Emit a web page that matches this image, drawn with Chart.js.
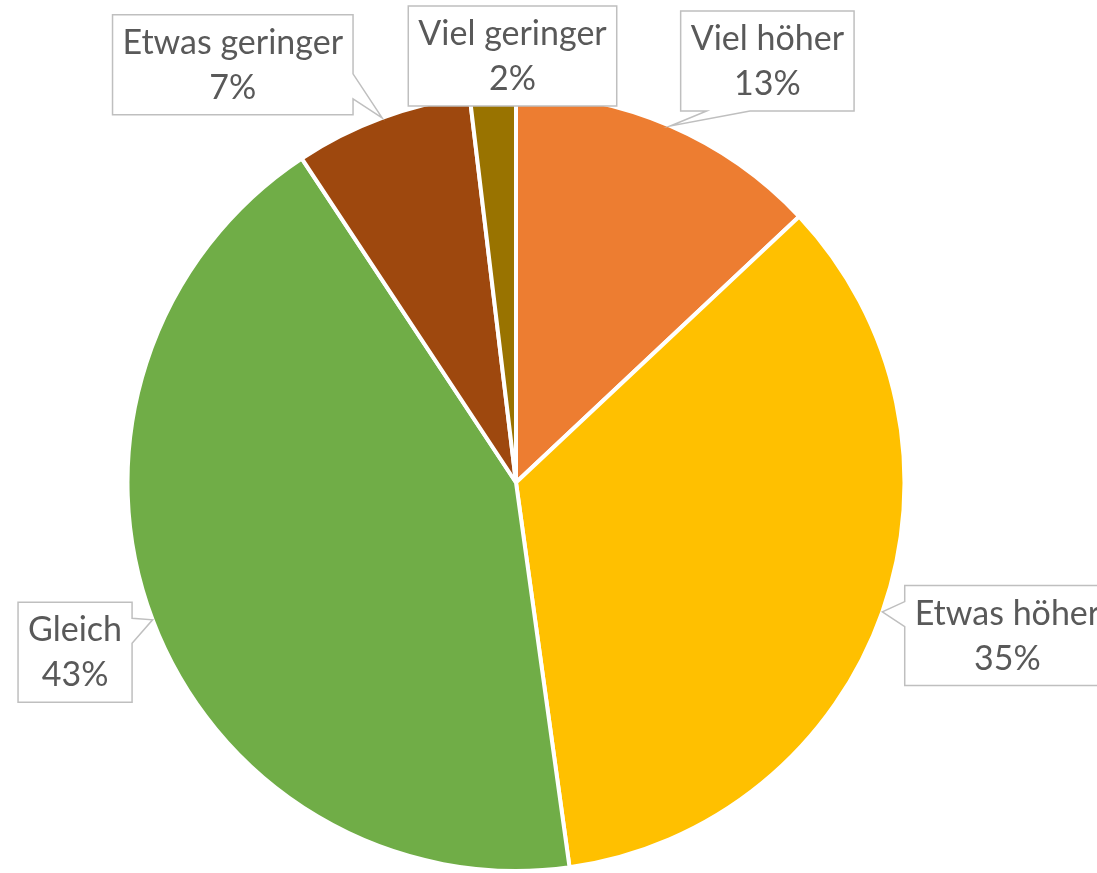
<!DOCTYPE html>
<html>
<head>
<meta charset="utf-8">
<script src="https://cdn.jsdelivr.net/npm/chart.js@4"></script>
<style>
  html, body { margin: 0; padding: 0; background: #ffffff; }
  #wrap { width: 1097px; height: 873px; position: relative; overflow: hidden; }
</style>
</head>
<body>
<div id="wrap"><canvas id="c" width="1097" height="873"></canvas></div>
<script>
// ---- data ----
const categories = ["Viel höher", "Etwas höher", "Gleich", "Etwas geringer", "Viel geringer"];
const shares = [13.0, 34.8, 42.9, 7.4, 1.9];
const sliceColors = ["#ED7D31", "#FFC000", "#70AD47", "#9E480E", "#997300"];
// label box centres, in units of the pie radius relative to the pie centre
const labelOffsetX = [0.647, 1.265, -1.135, -0.729, -0.009];
const labelOffsetY = [-1.085, 0.394, 0.437, -1.075, -1.098];

const FONT = '34px Lato, "Open Sans", sans-serif';
const TEXT_COLOR = '#595959';
const BOX_STROKE = '#BFBFBF';

const calloutPlugin = {
  id: 'callouts',
  afterDatasetsDraw(chart) {
    const ctx = chart.ctx;
    const meta = chart.getDatasetMeta(0);
    const total = shares.reduce((a, b) => a + b, 0);
    ctx.save();
    ctx.font = FONT;
    meta.data.forEach((arc, i) => {
      const p = arc.getProps(['x', 'y', 'startAngle', 'endAngle', 'outerRadius'], true);
      const r = p.outerRadius;
      const mid = (p.startAngle + p.endAngle) / 2;
      const tipX = p.x + Math.cos(mid) * r;
      const tipY = p.y + Math.sin(mid) * r;
      const line1 = categories[i];
      const line2 = Math.round(shares[i] / total * 100) + '%';
      const w = Math.max(ctx.measureText(line1).width, ctx.measureText(line2).width) + 20;
      const h = 100;
      const cx = p.x + labelOffsetX[i] * r;
      const cy = p.y + labelOffsetY[i] * r;
      const L = cx - w / 2, R = cx + w / 2, T = cy - h / 2, B = cy + h / 2;

      // decide pointer edge
      const dxo = Math.max(L - tipX, tipX - R, 0);
      const dyo = Math.max(T - tipY, tipY - B, 0);
      const pts = [];
      if (dxo > 0 || dyo > 0) {
        if (dyo < dxo * 0.5) {
          const side = tipX > R ? 'right' : 'left';
          const upper = tipY < cy;
          const y1 = upper ? T + h * 0.16 : T + h * 0.59;
          const y2 = upper ? T + h * 0.41 : T + h * 0.84;
          if (side === 'right') {
            pts.push([L, T], [R, T], [R, y1], [tipX, tipY], [R, y2], [R, B], [L, B]);
          } else {
            pts.push([L, T], [R, T], [R, B], [L, B], [L, y2], [tipX, tipY], [L, y1]);
          }
        } else {
          const side = tipY > B ? 'bottom' : 'top';
          const leftish = tipX < cx;
          const x1 = leftish ? L + w * 0.15 : L + w * 0.60;
          const x2 = leftish ? L + w * 0.40 : L + w * 0.85;
          if (side === 'bottom') {
            pts.push([L, T], [R, T], [R, B], [x2, B], [tipX, tipY], [x1, B], [L, B]);
          } else {
            pts.push([L, T], [x1, T], [tipX, tipY], [x2, T], [R, T], [R, B], [L, B]);
          }
        }
      } else {
        pts.push([L, T], [R, T], [R, B], [L, B]);
      }
      ctx.beginPath();
      pts.forEach((q, k) => k ? ctx.lineTo(q[0], q[1]) : ctx.moveTo(q[0], q[1]));
      ctx.closePath();
      ctx.fillStyle = '#ffffff';
      ctx.fill();
      ctx.lineWidth = 1.5;
      ctx.strokeStyle = BOX_STROKE;
      ctx.stroke();

      ctx.fillStyle = TEXT_COLOR;
      ctx.textAlign = 'center';
      ctx.textBaseline = 'middle';
      ctx.fillText(line1, cx, T + 28);
      ctx.fillText(line2, cx, T + 73);
    });
    ctx.restore();
  }
};

new Chart(document.getElementById('c'), {
  type: 'pie',
  data: {
    labels: categories,
    datasets: [{
      data: shares,
      backgroundColor: sliceColors,
      borderColor: '#ffffff',
      borderWidth: 4
    }]
  },
  options: {
    responsive: false,
    animation: false,
    layout: { padding: { top: 92, bottom: 0, left: 0, right: 65 } },
    plugins: {
      legend: { display: false },
      tooltip: { enabled: false }
    }
  },
  plugins: [calloutPlugin]
});
</script>
</body>
</html>
